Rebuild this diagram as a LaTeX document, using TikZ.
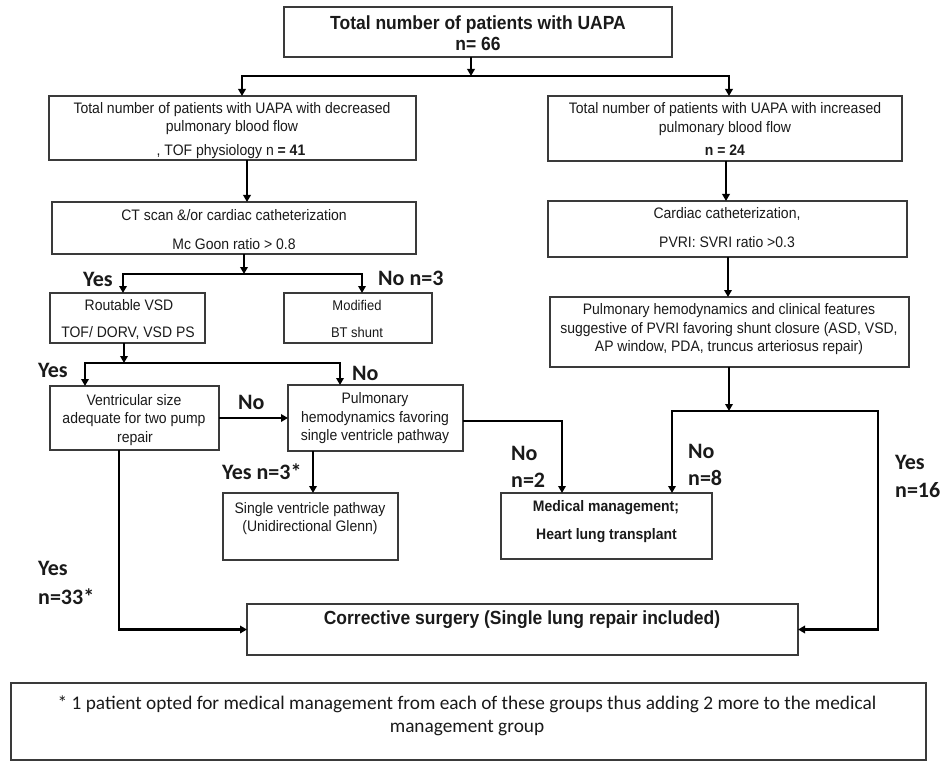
\documentclass[tikz,border=0pt]{standalone}
\usepackage{fontspec}
\setmainfont{Liberation Sans}[FakeStretch=0.92]
\newfontfamily\calfont{Carlito}
\usetikzlibrary{arrows.meta}
\definecolor{boxc}{HTML}{3A3A3A}
\definecolor{txt}{HTML}{1A1A1A}
\newcommand\fcbox[5]{\node[box, minimum width={(#4-#2)*1pt}, minimum height={(#5-#3)*1pt}] (#1) at ({(#2+#4)/2},{(#3+#5)/2}) {};}
\tikzset{
  box/.style={draw=boxc, line width=1.3pt, inner sep=0pt, outer sep=0pt, fill=white},
  conn/.style={line width=2.4pt, draw=black, line join=miter},
  arr/.style={conn, -{Triangle[length=7pt,width=7.5pt]}},
  tx/.style={font=\fontsize{15.2}{17}\selectfont, text=txt, inner sep=0pt, anchor=base},
  txs/.style={font=\fontsize{14.1}{16}\selectfont, text=txt, inner sep=0pt, anchor=base},
  txb/.style={font=\fontsize{15.2}{17}\selectfont\bfseries, text=txt, inner sep=0pt, anchor=base},
  ttl/.style={font=\fontsize{19}{21}\selectfont\bfseries, text=txt, inner sep=0pt, anchor=base},
  lab/.style={font=\fontsize{22}{24}\selectfont\calfont\bfseries, text=txt, inner sep=0pt, anchor=base west},
  fnt/.style={font=\fontsize{19.3}{22}\selectfont\calfont, text=txt, inner sep=0pt, anchor=base},
}
\begin{document}
\begin{tikzpicture}[x=1pt,y=-1pt]
\useasboundingbox[fill=white] (0,0) rectangle (945,762);
% boxes
\fcbox{top}{284}{7}{672}{57}
\fcbox{L1}{49}{96}{416}{160}
\fcbox{R1}{548}{96}{902}{161}
\fcbox{L2}{52}{202}{416}{254}
\fcbox{R2}{548}{201}{907}{257}
\fcbox{R3}{550}{297}{909}{367}
\fcbox{Rout}{50}{293}{205}{343}
\fcbox{BT}{284}{293}{432}{343}
\fcbox{Vent}{50}{386}{219}{450}
\fcbox{Pulm}{288}{385}{463}{451}
\fcbox{SV}{223}{493}{398}{560}
\fcbox{Med}{501}{493}{712}{559}
\fcbox{Corr}{247}{604}{798}{655}
\fcbox{Foot}{11}{683}{926}{760}
% texts
\node[ttl] (t0a) at (478,30) {Total number of patients with UAPA};
\node[ttl] (t0b) at (478,50.5) {n= 66};
\node[tx] (t1a) at (232,113.5) {Total number of patients with UAPA with decreased};
\node[tx] (t1b) at (232,131.5) {pulmonary blood flow};
\node[tx] (t1c) at (231,155.5) {, TOF physiology n \textbf{= 41}};
\node[tx] (t2a) at (725,113.5) {Total number of patients with UAPA with increased};
\node[tx] (t2b) at (725,132.5) {pulmonary blood flow};
\node[txb] (t2c) at (725,155.5) {n = 24};
\node[tx] (t3a) at (234,220.5) {CT scan \&/or cardiac catheterization};
\node[tx] (t3b) at (234,249.5) {Mc Goon ratio > 0.8};
\node[tx] (t4a) at (727,218.5) {Cardiac catheterization,};
\node[tx] (t4b) at (727,247.5) {PVRI: SVRI ratio >0.3};
\node[tx] (t5a) at (729,314.5) {Pulmonary hemodynamics and clinical features};
\node[tx] (t5b) at (729,333.5) {suggestive of PVRI favoring shunt closure (ASD, VSD,};
\node[tx] (t5c) at (729,351.5) {AP window, PDA, truncus arteriosus repair)};
\node[tx] (t6a) at (129,310.5) {Routable VSD};
\node[tx] (t6b) at (128,337.5) {TOF/ DORV, VSD PS};
\node[txs] (t7a) at (357,310) {Modified};
\node[txs] (t7b) at (357,337) {BT shunt};
\node[tx] (t8a) at (134,405.5) {Ventricular size};
\node[tx] (t8b) at (134,423.5) {adequate for two pump};
\node[tx] (t8c) at (135,442.5) {repair};
\node[tx] (t9a) at (375,403.5) {Pulmonary};
\node[tx] (t9b) at (375,422.5) {hemodynamics favoring};
\node[tx] (t9c) at (375,440.5) {single ventricle pathway};
\node[tx] (t10a) at (310,513.5) {Single ventricle pathway};
\node[tx] (t10b) at (310,531.5) {(Unidirectional Glenn)};
\node[txb] (t11a) at (606,511.5) {Medical management;};
\node[txb] (t11b) at (606.5,539.5) {Heart lung transplant};
\node[ttl] (t12) at (522,624.5) {Corrective surgery (Single lung repair included)};
\node[fnt] (t13a) at (467,709.5) {* 1 patient opted for medical management from each of these groups thus adding 2 more to the medical};
\node[fnt] (t13b) at (467,732) {management group};
% labels
\node[lab] (l1) at (83,286) {Yes};
\node[lab] (l2) at (378,285) {No n=3};
\node[lab] (l3) at (38,377) {Yes};
\node[lab] (l4) at (352,380) {No};
\node[lab] (l5) at (238,409) {No};
\node[lab] (l6) at (222,479) {Yes n=3*};
\node[lab] (l7a) at (511,460) {No};
\node[lab] (l7b) at (511,487) {n=2};
\node[lab] (l8a) at (688,458) {No};
\node[lab] (l8b) at (688,485) {n=8};
\node[lab] (l9a) at (895,469) {Yes};
\node[lab] (l9b) at (895,497) {n=16};
\node[lab] (l10a) at (38,575) {Yes};
\node[lab] (l10b) at (38,604) {n=33*};
% junction coordinates
\coordinate (j0) at (471,76);
\coordinate (j0l) at (242,76);
\coordinate (j0r) at (729,76);
\coordinate (c1) at (247,0);
\coordinate (c2) at (726,0);
\coordinate (c3) at (728,0);
\coordinate (j2) at (244,274);
\coordinate (j2l) at (123,274);
\coordinate (j2r) at (362,274);
\coordinate (j3) at (124,363);
\coordinate (j3l) at (85,363);
\coordinate (j3r) at (340,363);
\coordinate (k1) at (562,421);
\coordinate (c4) at (313,0);
\coordinate (b0) at (729,411);
\coordinate (bl) at (672,411);
\coordinate (br) at (878,411);
\coordinate (v1) at (119,0);
% connectors
\draw[arr] (top.south -| j0) -- (j0);
\draw[arr] (j0) -- (j0l) -- (j0l |- L1.north);
\draw[arr] (j0) -- (j0r) -- (j0r |- R1.north);
\draw[arr] (L1.south -| c1) -- (L2.north -| c1);
\draw[arr] (R1.south -| c2) -- (R2.north -| c2);
\draw[arr] (R2.south -| c3) -- (R3.north -| c3);
\draw[arr] (L2.south -| j2) -- (j2);
\draw[arr] (j2) -- (j2l) -- (j2l |- Rout.north);
\draw[arr] (j2) -- (j2r) -- (j2r |- BT.north);
\draw[arr] (Rout.south -| j3) -- (j3);
\draw[arr] (j3) -- (j3l) -- (j3l |- Vent.north);
\draw[arr] (j3) -- (j3r) -- (j3r |- Pulm.north);
\draw[arr] (Vent.east) -- (Pulm.west);
\draw[arr] (Pulm.east |- k1) -- (k1) -- (k1 |- Med.north);
\draw[arr] (Pulm.south -| c4) -- (SV.north -| c4);
\draw[arr] (R3.south -| b0) -- (b0);
\draw[arr] (b0) -- (bl) -- (bl |- Med.north);
\draw[arr] (b0) -- (br) -- (br |- Corr.east) -- (Corr.east);
\draw[arr] (Vent.south -| v1) -- (v1 |- Corr.west) -- (Corr.west);
\end{tikzpicture}
\end{document}
